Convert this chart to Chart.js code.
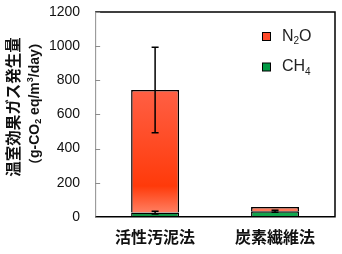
<!DOCTYPE html>
<html>
<head>
<meta charset="utf-8">
<script src="https://cdn.jsdelivr.net/npm/chart.js@4"></script>
<style>
  html, body { margin: 0; padding: 0; background: #fff; }
  #wrap { width: 342px; height: 254px; }
</style>
</head>
<body>
<div id="wrap"><canvas id="ghgChart" width="342" height="254"></canvas></div>
<script>
const categories = ['活性汚泥法', '炭素繊維法'];
const ch4Values = [25, 33];
const n2oValues = [718, 24];
const ch4Err = [8, 6];
const totalErr = [250, 0];
const yMin = 0, yMax = 1200, yStep = 200;

const jpFont = '"Noto Sans CJK JP", sans-serif';
const numFont = '"Liberation Sans", Arial, sans-serif';

function n2oFill(ctx) {
    const area = ctx.chart.chartArea;
    if (!area) return '#ff4a20';
    const g = ctx.chart.ctx.createLinearGradient(0, area.top, 0, area.bottom);
    g.addColorStop(0, '#ff7a6c');
    g.addColorStop(0.45, '#ff5a3c');
    g.addColorStop(0.85, '#ff3a0a');
    g.addColorStop(1, '#ff8a70');
    return g;
}

function ch4Fill(ctx) {
    const area = ctx.chart.chartArea;
    if (!area) return '#00a650';
    const g = ctx.chart.ctx.createLinearGradient(area.left, 0, area.right, 0);
    g.addColorStop(0, '#0f8a3e');
    g.addColorStop(1, '#12b054');
    return g;
}

// frame, inner ticks, error bars, legend, y title
const extras = {
    id: 'extras',
    afterDatasetsDraw(chart) {
        const c = chart.ctx, a = chart.chartArea;
        const x = chart.scales.x, y = chart.scales.y;
        c.save();
        c.strokeStyle = '#000';
        c.lineWidth = 1.5;
        c.beginPath();
        c.moveTo(a.left, a.top);
        c.lineTo(a.right, a.top);
        c.lineTo(a.right, a.bottom);
        c.lineTo(a.left, a.bottom);
        c.stroke();
        c.strokeStyle = '#8c8c8c';
        c.lineWidth = 1;
        c.beginPath();
        c.moveTo(a.left + 0.5, a.top);
        c.lineTo(a.left + 0.5, a.bottom);
        y.ticks.forEach(t => {
            const py = Math.round(y.getPixelForValue(t.value)) + 0.5;
            c.moveTo(a.left, py);
            c.lineTo(a.left + 5, py);
        });
        c.stroke();

        // error bars
        c.strokeStyle = '#000';
        c.lineWidth = 1.5;
        const cap = 3.5;
        const drawErr = (px, v, e) => {
            const top = y.getPixelForValue(v + e), bot = y.getPixelForValue(v - e);
            c.beginPath();
            c.moveTo(px, top); c.lineTo(px, bot);
            c.moveTo(px - cap, top); c.lineTo(px + cap, top);
            c.moveTo(px - cap, bot); c.lineTo(px + cap, bot);
            c.stroke();
        };
        categories.forEach((cat, i) => {
            const px = x.getPixelForValue(i);
            drawErr(px, ch4Values[i], ch4Err[i]);
            if (totalErr[i] > 0) drawErr(px, ch4Values[i] + n2oValues[i], totalErr[i]);
        });

        // legend
        const items = [
            { base: 'N', sub: '2', tail: 'O', color: '#ff4a2a', y: 36.5 },
            { base: 'CH', sub: '4', tail: '', color: '#009944', y: 67 }
        ];
        items.forEach(it => {
            c.fillStyle = it.color;
            c.fillRect(262.5, it.y - 4, 8, 8);
            c.strokeStyle = '#000';
            c.lineWidth = 1;
            c.strokeRect(262.5, it.y - 4, 8, 8);
            c.fillStyle = '#222';
            c.textBaseline = 'middle';
            c.textAlign = 'left';
            let tx = 282;
            c.font = '16px ' + numFont;
            c.fillText(it.base, tx, it.y);
            tx += c.measureText(it.base).width;
            c.font = '10px ' + numFont;
            c.fillText(it.sub, tx, it.y + 5);
            tx += c.measureText(it.sub).width;
            c.font = '16px ' + numFont;
            c.fillText(it.tail, tx, it.y);
        });

        // y axis title
        const cy = 107;
        c.save();
        c.translate(13, cy);
        c.rotate(-Math.PI / 2);
        c.fillStyle = '#111';
        c.textAlign = 'center';
        c.textBaseline = 'middle';
        c.font = 'bold 15.5px ' + jpFont;
        c.fillText('温室効果ガス発生量', 0, 0);
        c.restore();

        c.save();
        c.translate(35, cy);
        c.rotate(-Math.PI / 2);
        c.fillStyle = '#111';
        c.textBaseline = 'middle';
        c.textAlign = 'left';
        const big = 'bold 14px ' + numFont, small = 'bold 9px ' + numFont;
        const segs = [
            ['（', 'bold 14px ' + jpFont, 0],
            ['g-CO', big, 0],
            ['2', small, 4],
            [' eq/m', big, 0],
            ['3', small, -4],
            ['/day', big, 0],
            ['）', 'bold 14px ' + jpFont, 0]
        ];
        const chars = [];
        segs.forEach(s => {
            c.font = s[1];
            for (const ch of s[0]) chars.push({ ch, font: s[1], dy: s[2], w: c.measureText(ch).width });
        });
        const natural = chars.reduce((t, k) => t + k.w, 0);
        const target = 130;
        const gap = Math.max(0, (target - natural) / (chars.length - 1));
        let sx = -target / 2;
        chars.forEach(k => {
            c.font = k.font;
            c.fillText(k.ch, sx, k.dy);
            sx += k.w + gap;
        });
        c.restore();
        c.restore();
    }
};

new Chart(document.getElementById('ghgChart').getContext('2d'), {
    type: 'bar',
    data: {
        labels: categories,
        datasets: [{
            label: 'CH4',
            data: ch4Values,
            backgroundColor: ch4Fill,
            borderColor: '#000',
            borderWidth: 1.5
        }, {
            label: 'N2O',
            data: n2oValues,
            backgroundColor: n2oFill,
            borderColor: '#000',
            borderWidth: 1.5
        }]
    },
    options: {
        responsive: false,
        animation: false,
        layout: { padding: { left: 34, right: 7, top: 12, bottom: -4 } },
        datasets: { bar: { barPercentage: 0.4, categoryPercentage: 1 } },
        plugins: { legend: { display: false }, tooltip: { enabled: false } },
        scales: {
            x: {
                stacked: true,
                grid: { display: false, drawTicks: false },
                border: { display: false },
                ticks: { color: '#111', padding: 11, font: { family: jpFont, size: 16, weight: 'bold' } }
            },
            y: {
                stacked: true,
                min: yMin,
                max: yMax,
                grid: { display: false, drawTicks: false },
                border: { display: false },
                afterFit(s) { s.paddingTop = 0; s.paddingBottom = 0; },
                ticks: {
                    stepSize: yStep, color: '#111', padding: 15,
                    font: { family: numFont, size: 14 },
                    callback: v => String(v)
                }
            }
        }
    },
    plugins: [extras]
});
</script>
</body>
</html>
